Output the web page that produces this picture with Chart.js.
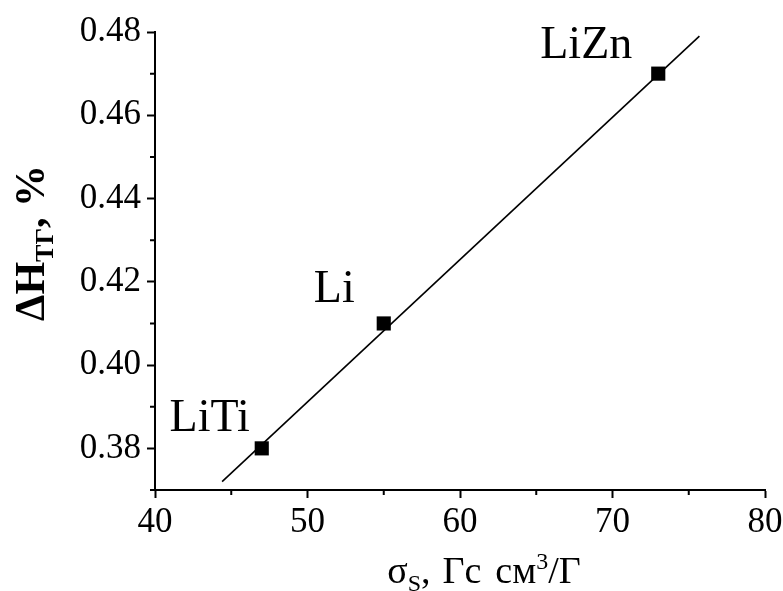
<!DOCTYPE html>
<html>
<head>
<meta charset="utf-8">
<script src="https://cdn.jsdelivr.net/npm/chart.js@4/dist/chart.umd.min.js"></script>
<style>
  html, body { margin: 0; padding: 0; background: #fff; }
  #wrap { width: 783px; height: 591px; position: relative; }
</style>
</head>
<body>
<div id="wrap"><canvas id="chart"></canvas></div>
<script>
// measured points
const samples = ['LiTi', 'Li', 'LiZn'];
const sigmaS = [47, 55, 73];
const deltaH = [0.38, 0.41, 0.47];

// straight fit line, ends
const fitX = [44.4, 75.7];
const fitY = [0.372, 0.479];

const xTicks = [40, 50, 60, 70, 80];
const yTicks = [0.38, 0.40, 0.42, 0.44, 0.46, 0.48];
const xMinor = [45, 55, 65, 75];
const yMinor = [0.37, 0.39, 0.41, 0.43, 0.45, 0.47];

const serif = "'Liberation Serif', 'Times New Roman', serif";

// label offsets from their point, in px
const labelShift = { LiTi: [-12, -17], Li: [-29, -21], LiZn: [-26, -16] };

// labels, minor ticks and axis titles (with sub/superscripts)
const extras = {
    id: 'extras',
    afterDraw(chart) {
        const c = chart.ctx;
        const xs = chart.scales.x, ys = chart.scales.y;
        const area = chart.chartArea;
        c.save();
        c.fillStyle = '#000';
        c.strokeStyle = '#000';

        // minor ticks
        c.lineWidth = 2;
        c.beginPath();
        xMinor.forEach(v => {
            const px = xs.getPixelForValue(v);
            c.moveTo(px, area.bottom);
            c.lineTo(px, area.bottom + 5);
        });
        yMinor.forEach(v => {
            const py = ys.getPixelForValue(v);
            c.moveTo(area.left, py);
            c.lineTo(area.left - 5, py);
        });
        c.stroke();

        // point labels
        c.font = '46px ' + serif;
        c.textAlign = 'right';
        c.textBaseline = 'alphabetic';
        samples.forEach((s, i) => {
            const px = xs.getPixelForValue(sigmaS[i]);
            const py = ys.getPixelForValue(deltaH[i]);
            const d = labelShift[s];
            c.fillText(s, px + d[0], py + d[1]);
        });

        // x title
        const big = '38px ' + serif, small = '24px ' + serif;
        const parts = [
            { t: '\u03c3', f: big, dy: 0, gap: 0 },
            { t: 'S', f: small, dy: 8, gap: 0 },
            { t: ',', f: big, dy: 0, gap: 12 },
            { t: '\u0413\u0441', f: big, dy: 0, gap: 14 },
            { t: '\u0441\u043c', f: big, dy: 0, gap: 0 },
            { t: '3', f: small, dy: -14, gap: 0 },
            { t: '/\u0413', f: big, dy: 0, gap: 0 }
        ];
        c.textAlign = 'left';
        let w = 0;
        parts.forEach(p => { c.font = p.f; w += c.measureText(p.t).width + p.gap; });
        let x0 = 484 - w / 2;
        const base = 583;
        parts.forEach(p => {
            c.font = p.f;
            c.fillText(p.t, x0, base + p.dy);
            x0 += c.measureText(p.t).width + p.gap;
        });

        // y title (rotated)
        const yparts = [
            { t: '\u0394H', f: 'bold 42px ' + serif, dy: 0 },
            { t: '\u0422\u0413', f: 'bold 26px ' + serif, dy: 9 },
            { t: ', %', f: 'bold 42px ' + serif, dy: 0 }
        ];
        c.translate(44, 243);
        c.rotate(-Math.PI / 2);
        w = 0;
        yparts.forEach(p => { c.font = p.f; w += c.measureText(p.t).width; });
        x0 = -w / 2;
        yparts.forEach(p => {
            c.font = p.f;
            c.fillText(p.t, x0, p.dy);
            x0 += c.measureText(p.t).width;
        });
        c.restore();
    }
};

new Chart(document.getElementById('chart'), {
    type: 'scatter',
    data: {
        datasets: [
            {
                label: 'fit',
                data: fitX.map((x, i) => ({ x: x, y: fitY[i] })),
                showLine: true,
                borderColor: '#000',
                borderWidth: 1.6,
                pointRadius: 0,
                fill: false
            },
            {
                label: 'samples',
                data: sigmaS.map((x, i) => ({ x: x, y: deltaH[i] })),
                pointStyle: 'rect',
                pointRadius: 10,
                backgroundColor: '#000',
                borderColor: '#000',
                borderWidth: 0
            }
        ]
    },
    options: {
        responsive: true,
        maintainAspectRatio: false,
        animation: false,
        layout: { padding: { left: 0, right: 18, top: 32, bottom: 0 } },
        plugins: {
            legend: { display: false },
            tooltip: { enabled: false }
        },
        scales: {
            x: {
                type: 'linear',
                min: 40,
                max: 80,
                afterBuildTicks: s => { s.ticks = xTicks.map(v => ({ value: v })); },
                afterFit: s => { s.height = 101; s.paddingLeft = 0; s.paddingRight = 0; },
                ticks: {
                    color: '#000',
                    font: { family: serif, size: 35 },
                    padding: 4,
                    maxRotation: 0,
                    autoSkip: false
                },
                grid: { drawOnChartArea: false, tickLength: 8, tickWidth: 2, color: '#000' },
                border: { color: '#000', width: 2 }
            },
            y: {
                min: 0.37,
                max: 0.48,
                afterBuildTicks: s => { s.ticks = yTicks.map(v => ({ value: v })); },
                afterFit: s => { s.width = 155; s.paddingTop = 0; s.paddingBottom = 0; },
                ticks: {
                    color: '#000',
                    font: { family: serif, size: 35 },
                    padding: 6,
                    autoSkip: false,
                    callback: v => v.toFixed(2)
                },
                grid: { drawOnChartArea: false, tickLength: 8, tickWidth: 2, color: '#000' },
                border: { color: '#000', width: 2 }
            }
        }
    },
    plugins: [extras]
});
</script>
</body>
</html>
